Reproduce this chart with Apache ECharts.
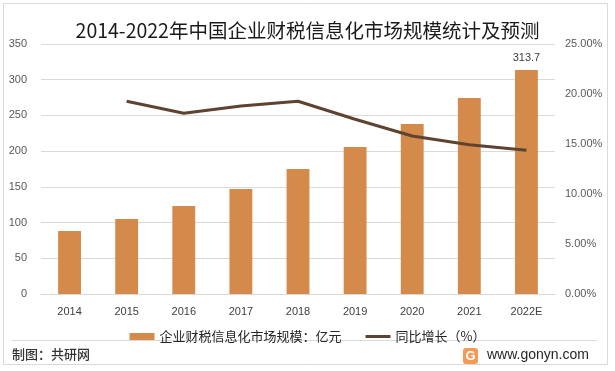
<!DOCTYPE html>
<html>
<head>
<meta charset="utf-8">
<script src="https://cdn.jsdelivr.net/npm/echarts@6/dist/echarts.min.js"></script>
<style>
html,body{margin:0;padding:0;background:#fff;}
#c{width:615px;height:371px;}
</style>
</head>
<body>
<div id="c"></div>
<script>
const categories = ['2014','2015','2016','2017','2018','2019','2020','2021','2022E'];
const marketSize = [88.2, 105, 123.2, 147, 175, 205.8, 238, 274.4, 313.7];
const growthRate = [null, 19.27, 18.07, 18.8, 19.27, 17.47, 15.8, 14.93, 14.37];
const leftTicks = [0, 50, 100, 150, 200, 250, 300, 350];
const rightTicks = [0, 5, 10, 15, 20, 25];

const numFont = '"Liberation Sans", "Noto Sans", Arial, sans-serif';
const cjkFont = '"Noto Sans CJK SC", "Noto Sans", sans-serif';

const chart = echarts.init(document.getElementById('c'), null, {renderer: 'canvas'});
chart.setOption({
  backgroundColor: '#ffffff',
  animation: false,
  title: {
    text: '2014-2022年中国企业财税信息化市场规模统计及预测',
    left: 'center',
    top: 16,
    textStyle: {fontFamily: cjkFont, fontSize: 19.5, fontWeight: 'normal', color: '#1a1a1a'}
  },
  legend: {
    left: 'center',
    top: 325,
    itemWidth: 25,
    itemHeight: 7,
    itemGap: 24,
    textStyle: {fontFamily: cjkFont, fontSize: 13, color: '#262626'},
    data: [
      {name: '企业财税信息化市场规模：亿元', icon: 'rect'},
      {name: '同比增长（%）', icon: 'path://M0,0 L25,0 L25,3 L0,3 Z'}
    ]
  },
  grid: {left: 41, right: 60, top: 44, bottom: 77},
  xAxis: {
    type: 'category',
    data: categories,
    axisLine: {lineStyle: {color: '#D9D9D9'}},
    axisTick: {show: false},
    axisLabel: {fontFamily: numFont, fontSize: 11, color: '#404040', margin: 12}
  },
  yAxis: [
    {
      type: 'value', min: leftTicks[0], max: leftTicks[leftTicks.length-1], interval: 50,
      axisLine: {show: false}, axisTick: {show: false},
      splitLine: {lineStyle: {color: '#D9D9D9'}},
      axisLabel: {fontFamily: numFont, fontSize: 11, color: '#595959', margin: 14}
    },
    {
      type: 'value', min: rightTicks[0], max: rightTicks[rightTicks.length-1], interval: 5,
      axisLine: {show: false}, axisTick: {show: false},
      splitLine: {show: false},
      axisLabel: {fontFamily: numFont, fontSize: 11, color: '#595959', margin: 10,
        formatter: v => v.toFixed(2) + '%'}
    }
  ],
  series: [
    {
      name: '企业财税信息化市场规模：亿元',
      type: 'bar',
      barWidth: '40%',
      itemStyle: {color: '#D38A4B'},
      data: marketSize.map((v, i) => i === marketSize.length - 1 ?
        {value: v, label: {show: true, position: 'top', distance: 6, color: '#404040', fontFamily: numFont, fontSize: 11}} : v)
    },
    {
      name: '同比增长（%）',
      type: 'line',
      yAxisIndex: 1,
      symbol: 'none',
      smooth: false,
      connectNulls: false,
      lineStyle: {color: '#5E4331', width: 3},
      itemStyle: {color: '#5E4331'},
      data: growthRate
    }
  ],
  graphic: [
    {type: 'rect', shape: {x: 3.5, y: 3.5, width: 604, height: 361}, style: {fill: 'none', stroke: '#D9D9D9', lineWidth: 1}, silent: true},
    {type: 'line', shape: {x1: 12, y1: 340.5, x2: 597, y2: 340.5}, style: {stroke: '#D9D9D9', lineWidth: 1}, silent: true},
    {type: 'text', left: 12, top: 348, style: {text: '制图：共研网', fontFamily: cjkFont, fontSize: 13, fontWeight: 500, fill: '#333333'}},
    {type: 'group', left: 463, top: 348, children: [
      {type: 'rect', shape: {x: 0, y: 0, width: 15, height: 16, r: 3}, style: {fill: '#F39A54'}},
      {type: 'text', x: 7.5, y: 8, style: {text: 'G', fontFamily: numFont, fontSize: 13, fontWeight: 'bold', fill: '#ffffff', align: 'center', verticalAlign: 'middle'}}
    ]},
    {type: 'text', left: 487, top: 348, style: {text: 'www.gonyn.com', fontFamily: numFont, fontSize: 14, fill: '#262626'}}
  ]
});
</script>
</body>
</html>
